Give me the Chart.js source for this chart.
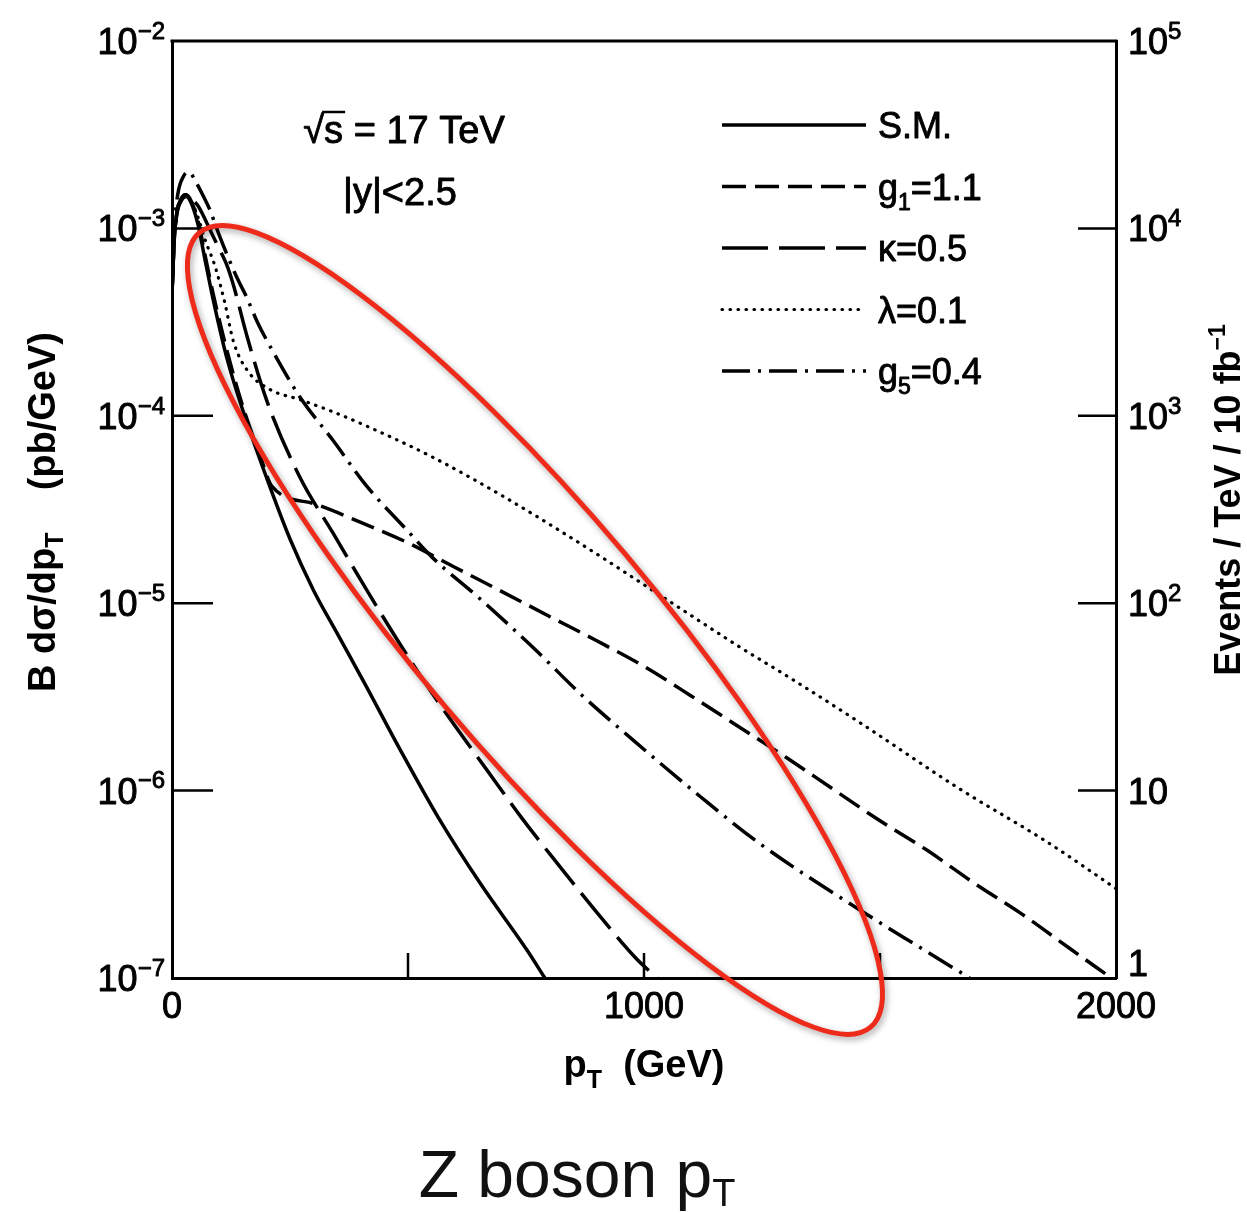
<!DOCTYPE html>
<html>
<head>
<meta charset="utf-8">
<title>Z boson pT</title>
<script src="https://cdn.jsdelivr.net/npm/chart.js@4.4.0/dist/chart.umd.min.js"></script>
<style>
  html, body { margin: 0; padding: 0; background: #fff; }
  #wrap { width: 1247px; height: 1213px; }
</style>
</head>
<body>
<div id="wrap"><canvas id="zChart" width="1247" height="1213"></canvas></div>
<script>
// ---- values: p_T (GeV) -> B dsigma/dp_T (pb/GeV) ----
const smPt  = [0, 5, 10, 20, 30, 40, 55, 70, 87, 117, 150, 200, 250, 300, 350, 409, 483, 564, 653, 752, 790];
const smVal = [4.5e-4, 8.9e-4, 1.18e-3, 1.41e-3, 1.48e-3, 1.38e-3, 1.05e-3, 6.8e-4, 4.2e-4, 2.0e-4, 1.07e-4,
               4.7e-5, 2.2e-5, 1.17e-5, 6.9e-6, 3.7e-6, 1.66e-6, 7.2e-7, 3.2e-7, 1.41e-7, 1.0e-7];

const g1Pt  = [0, 5, 10, 20, 30, 40, 55, 70, 87, 117, 150, 185, 212, 300, 400, 500, 600, 700, 800, 900, 1000,
               1100, 1200, 1300, 1400, 1500, 1600, 1700, 1800, 1900, 1990];
const g1Val = [4.5e-4, 8.9e-4, 1.2e-3, 1.45e-3, 1.51e-3, 1.41e-3, 1.1e-3, 7.2e-4, 4.5e-4, 2.2e-4, 1.12e-4, 6.3e-5,
               4.2e-5, 3.4e-5, 2.7e-5, 2.1e-5, 1.55e-5, 1.15e-5, 8.5e-6, 6.3e-6, 4.6e-6, 3.2e-6, 2.2e-6, 1.51e-6,
               1.02e-6, 6.9e-7, 4.8e-7, 3.2e-7, 2.2e-7, 1.45e-7, 1.0e-7];

const kapPt  = [0, 5, 10, 20, 30, 40, 55, 70, 85, 100, 117, 129, 160, 201, 271, 341, 413, 504, 580, 667, 740,
                816, 900, 985, 1028];
const kapVal = [4.5e-4, 8.9e-4, 1.2e-3, 1.45e-3, 1.51e-3, 1.45e-3, 1.32e-3, 1.12e-3, 9.3e-4, 7.8e-4, 6.3e-4,
                5.1e-4, 2.6e-4, 1.2e-4, 4.7e-5, 2.37e-5, 1.17e-5, 5.0e-6, 2.6e-6, 1.29e-6, 7.2e-7, 4.1e-7,
                2.24e-7, 1.26e-7, 1.0e-7];

const lamPt  = [0, 5, 10, 20, 30, 40, 55, 70, 91, 112, 130, 160, 208, 271, 341, 413, 553, 695, 850, 1030, 1200,
                1316, 1458, 1669, 1850, 2000];
const lamVal = [4.5e-4, 8.9e-4, 1.2e-3, 1.45e-3, 1.51e-3, 1.41e-3, 1.15e-3, 8.7e-4, 6.3e-4, 4.0e-4, 2.5e-4,
                1.74e-4, 1.38e-4, 1.22e-4, 1.05e-4, 8.8e-5, 6.0e-5, 3.8e-5, 2.2e-5, 1.12e-5, 5.9e-6, 3.9e-6,
                2.3e-6, 1.02e-6, 5.4e-7, 3.0e-7];

const g5Pt  = [0, 5, 12, 25, 36, 50, 65, 80, 98, 117, 137, 158, 180, 214, 271, 341, 413, 498, 553, 650, 765, 870,
               977, 1119, 1246, 1458, 1580, 1690];
const g5Val = [4.5e-4, 1.0e-3, 1.51e-3, 1.91e-3, 2.0e-3, 1.78e-3, 1.51e-3, 1.26e-3, 9.5e-4, 7.2e-4, 5.5e-4,
               4.3e-4, 3.2e-4, 2.2e-4, 1.26e-4, 7.4e-5, 4.2e-5, 2.45e-5, 1.74e-5, 1.07e-5, 5.8e-6, 3.2e-6,
               1.86e-6, 9.3e-7, 5.2e-7, 2.3e-7, 1.48e-7, 1.0e-7];

// legend labels (_{} = subscript)
const legendLabels = ['S.M.', 'g_{1}=1.1', 'κ=0.5', 'λ=0.1', 'g_{5}=0.4'];

// tick labels
const xLabelVals  = [0, 1000, 2000];
const xLabels     = ['0', '1000', '2000'];
const xInnerTicks = [500, 1000, 1500];
const yLabelVals  = [1e-2, 1e-3, 1e-4, 1e-5, 1e-6, 1e-7];
const yLabels     = ['10^{−2}', '10^{−3}', '10^{−4}', '10^{−5}', '10^{−6}', '10^{−7}'];
const yInnerTicks = [1e-3, 1e-4, 1e-5, 1e-6];
const y2LabelVals = [1e5, 1e4, 1e3, 1e2, 10, 1];
const y2Labels    = ['10^{5}', '10^{4}', '10^{3}', '10^{2}', '10', '1'];
const y2InnerTicks = [1e4, 1e3, 1e2, 10];

const FONT = '"Liberation Sans", Arial, sans-serif';

function toXY(xs, ys) {
  return xs.map((x, i) => ({x: x, y: ys[i]}));
}

// split 'dp_{T}' / '10^{5}' into normal / sub / sup pieces
function richParts(str) {
  const out = [];
  const re = /([_^])\{([^}]*)\}/g;
  let last = 0, m;
  while ((m = re.exec(str))) {
    if (m.index > last) out.push({t: str.slice(last, m.index), k: 'n'});
    out.push({t: m[2], k: m[1] === '_' ? 'sub' : 'sup'});
    last = re.lastIndex;
  }
  if (last < str.length) out.push({t: str.slice(last), k: 'n'});
  return out;
}

function rich(ctx, str, x, y, size, o) {
  o = o || {};
  const align = o.align || 'left';
  const weight = o.weight || 'normal';
  const ratio = o.ratio || 0.65;
  const subDy = (o.subDy != null ? o.subDy : 0.25) * size;
  const supDy = (o.supDy != null ? o.supDy : 0.42) * size;
  const ps = richParts(str);
  let total = 0;
  ps.forEach(p => {
    p.size = p.k === 'n' ? size : Math.round(size * ratio);
    ctx.font = weight + ' ' + p.size + 'px ' + FONT;
    p.w = ctx.measureText(p.t).width;
    total += p.w;
  });
  let cx = align === 'center' ? x - total / 2 : (align === 'right' ? x - total : x);
  ctx.textAlign = 'left';
  ctx.textBaseline = 'alphabetic';
  ps.forEach(p => {
    ctx.font = weight + ' ' + p.size + 'px ' + FONT;
    const dy = p.k === 'sub' ? subDy : (p.k === 'sup' ? -supDy : 0);
    ctx.fillText(p.t, cx, y + dy);
    if (o.stroke) {
      ctx.save();
      ctx.lineWidth = o.stroke;
      ctx.lineJoin = 'round';
      ctx.strokeStyle = ctx.fillStyle;
      ctx.setLineDash([]);
      ctx.strokeText(p.t, cx, y + dy);
      ctx.restore();
    }
    cx += p.w;
  });
  return total;
}

const ellipseCenterPt = 769;
const ellipseCenterVal = 7.2e-6;

// frame, inward ticks, labels, legend, notes, red ellipse
const decor = {
  id: 'decor',
  afterDraw(chart) {
    const ctx = chart.ctx;
    const a = chart.chartArea;
    const sx = chart.scales.x, sy = chart.scales.y, sy2 = chart.scales.y2;
    ctx.save();
    ctx.strokeStyle = '#000';
    ctx.fillStyle = '#000';
    ctx.lineCap = 'butt';

    // top edge of the frame
    ctx.lineWidth = 3;
    ctx.beginPath();
    ctx.moveTo(a.left - 1.5, a.top);
    ctx.lineTo(a.right + 1.5, a.top);
    ctx.stroke();

    // inward ticks
    ctx.lineWidth = 2.5;
    yInnerTicks.forEach(v => {
      const py = sy.getPixelForValue(v);
      ctx.beginPath(); ctx.moveTo(a.left, py); ctx.lineTo(a.left + 41, py); ctx.stroke();
    });
    y2InnerTicks.forEach(v => {
      const py = sy2.getPixelForValue(v);
      ctx.beginPath(); ctx.moveTo(a.right, py); ctx.lineTo(a.right - 38, py); ctx.stroke();
    });
    xInnerTicks.forEach(v => {
      const px = sx.getPixelForValue(v);
      ctx.beginPath(); ctx.moveTo(px, a.bottom); ctx.lineTo(px, a.bottom - 25); ctx.stroke();
    });

    // tick labels
    yLabelVals.forEach((v, i) => {
      rich(ctx, yLabels[i], a.left - 7, sy.getPixelForValue(v) + 13, 36, {align: 'right', ratio: 0.68, stroke: 0.9});
    });
    y2LabelVals.forEach((v, i) => {
      const py = sy2.getPixelForValue(v);
      const base = v === 1 ? py - 2 : py + 13;
      rich(ctx, y2Labels[i], a.right + 12, base, 36, {ratio: 0.68, stroke: 0.9});
    });
    xLabelVals.forEach((v, i) => {
      rich(ctx, xLabels[i], sx.getPixelForValue(v), a.bottom + 40, 36, {align: 'center', stroke: 0.9});
    });

    // axis titles
    ctx.save();
    ctx.translate(55, 512);
    ctx.rotate(-Math.PI / 2);
    rich(ctx, 'B dσ/dp_{T}    (pb/GeV)', 0, 0, 38, {align: 'center', weight: 'bold', subDy: 0.22});
    ctx.restore();

    ctx.save();
    ctx.translate(1240, 500);
    ctx.rotate(-Math.PI / 2);
    rich(ctx, 'Events / TeV / 10 fb^{−1}', 0, 0, 36, {align: 'center', weight: 'bold'});
    ctx.restore();

    rich(ctx, 'p_{T}  (GeV)', (a.left + a.right) / 2, 1077, 38, {align: 'center', weight: 'bold', subDy: 0.3});

    // notes in the plot
    const w = rich(ctx, '√s = 17 TeV', 404, 143, 38, {align: 'center', stroke: 0.9});
    ctx.font = 'normal 38px ' + FONT;
    const rw = ctx.measureText('√').width;
    const sw = ctx.measureText('s').width;
    ctx.lineWidth = 2.5;
    ctx.beginPath();
    ctx.moveTo(404 - w / 2 + rw - 2, 112);
    ctx.lineTo(404 - w / 2 + rw + sw + 2, 112);
    ctx.stroke();
    rich(ctx, '|y|<2.5', 400, 205, 38, {align: 'center', stroke: 0.9});

    // legend
    chart.data.datasets.forEach((ds, i) => {
      const ly = 125 + i * 61.5;
      ctx.save();
      ctx.lineWidth = ds.borderWidth;
      ctx.lineCap = ds.borderCapStyle || 'butt';
      ctx.setLineDash(ds.borderDash || []);
      ctx.beginPath();
      ctx.moveTo(722, ly);
      ctx.lineTo(866, ly);
      ctx.stroke();
      ctx.restore();
      rich(ctx, legendLabels[i], 878, ly + 13, 36, {subDy: 0.28, stroke: 0.9});
    });

    // caption under the chart
    ctx.fillStyle = '#111';
    rich(ctx, 'Z boson p_{T}', 577, 1197, 66, {align: 'center', ratio: 0.58, subDy: 0.13});

    // red ellipse drawn over the plot
    const cx = sx.getPixelForValue(ellipseCenterPt);
    const cy = sy.getPixelForValue(ellipseCenterVal);
    ctx.save();
    ctx.strokeStyle = '#ee2b1b';
    ctx.lineWidth = 5;
    ctx.shadowColor = 'rgba(0,0,0,0.35)';
    ctx.shadowBlur = 6;
    ctx.shadowOffsetX = 2;
    ctx.shadowOffsetY = 3;
    ctx.beginPath();
    ctx.ellipse(cx, cy, 520, 118, 49.8 * Math.PI / 180, 0, Math.PI * 2);
    ctx.stroke();
    ctx.restore();

    ctx.restore();
  }
};

function lineSet(label, xs, ys, dash, cap, width) {
  return {
    label: label,
    data: toXY(xs, ys),
    yAxisID: 'y',
    borderColor: '#000',
    borderWidth: width,
    borderDash: dash,
    borderCapStyle: cap,
    pointRadius: 0,
    fill: false,
    tension: 0.4,
    cubicInterpolationMode: 'monotone'
  };
}

const ctx = document.getElementById('zChart').getContext('2d');
const zChart = new Chart(ctx, {
  type: 'line',
  data: {
    datasets: [
      lineSet('S.M.', smPt, smVal, [], 'butt', 3.5),
      lineSet('g1=1.1', g1Pt, g1Val, [24, 9], 'butt', 3.5),
      lineSet('κ=0.5', kapPt, kapVal, [46, 11], 'butt', 3.5),
      lineSet('λ=0.1', lamPt, lamVal, [0.5, 7.5], 'round', 3.2),
      lineSet('g5=0.4', g5Pt, g5Val, [28, 8, 3, 8], 'butt', 3.5)
    ]
  },
  plugins: [decor],
  options: {
    responsive: false,
    animation: false,
    devicePixelRatio: 1,
    layout: { padding: { left: 172, right: 131, top: 41, bottom: 235 } },
    plugins: { legend: { display: false }, tooltip: { enabled: false } },
    scales: {
      x: {
        type: 'linear', min: 0, max: 2000,
        ticks: { display: false },
        grid: { display: false, drawTicks: false },
        border: { display: true, color: '#000', width: 3 }
      },
      y: {
        type: 'logarithmic', position: 'left', min: 1e-7, max: 1e-2,
        ticks: { display: false },
        grid: { display: false, drawTicks: false },
        border: { display: true, color: '#000', width: 3 }
      },
      y2: {
        type: 'logarithmic', position: 'right', min: 1, max: 1e5,
        ticks: { display: false },
        grid: { display: false, drawTicks: false },
        border: { display: true, color: '#000', width: 3 }
      }
    }
  }
});
</script>
</body>
</html>
